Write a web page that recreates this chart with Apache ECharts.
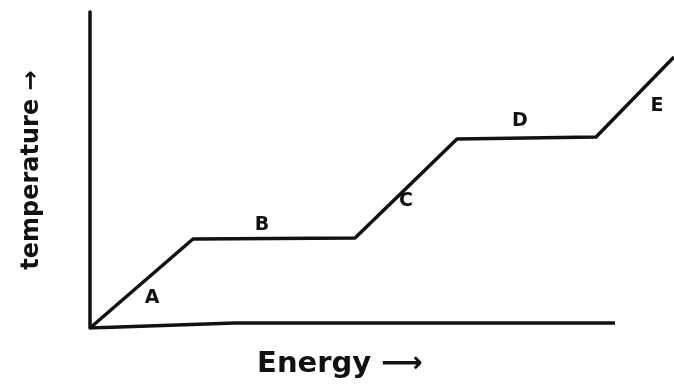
<!DOCTYPE html>
<html>
<head>
<meta charset="utf-8">
<script src="https://cdn.jsdelivr.net/npm/echarts@6/dist/echarts.min.js"></script>
<style>
  html, body { margin: 0; padding: 0; background: #fff; }
  #chart { width: 674px; height: 390px; }
</style>
</head>
<body>
<div id="chart"></div>
<script>
// heating curve, energy vs temperature (arbitrary units)
var energy = [0, 103, 265, 367, 506, 584];
var temperature = [0, 89, 90, 189, 191, 271];

// hand drawn energy axis (slightly wavy)
var baseX = [0, 145, 525];
var baseY = [0, 5, 5];

// phase labels and where they sit
var phaseNames = ['A', 'B', 'C', 'D', 'E'];
var phaseX = [62, 172, 316, 430, 567];
var phaseY = [30, 103, 127, 207, 222];

var chart = echarts.init(document.getElementById('chart'));

var curve = energy.map(function (e, i) { return [e, temperature[i]]; });
var base = baseX.map(function (e, i) { return [e, baseY[i]]; });
var marks = phaseNames.map(function (n, i) { return { name: n, value: [phaseX[i], phaseY[i]] }; });

var option = {
    animation: false,
    grid: { left: 90, right: 0, top: 12, bottom: 62, outerBoundsMode: 'none' },
    xAxis: {
        type: 'value',
        min: 0,
        max: 584,
        name: 'Energy \u27F6',
        nameLocation: 'middle',
        nameGap: 22,
        nameTextStyle: {
            color: '#111', fontSize: 29, fontWeight: 'bold', fontFamily: 'DejaVu Sans',
            padding: [0, 84, 0, 0]
        },
        axisLine: { show: false },
        axisTick: { show: false },
        axisLabel: { show: false },
        splitLine: { show: false }
    },
    yAxis: {
        type: 'value',
        min: 0,
        max: 316,
        name: 'temperature \u2192',
        nameLocation: 'middle',
        nameGap: 46,
        nameRotate: 90,
        nameTextStyle: { color: '#111', fontSize: 24, fontWeight: 'bold', fontFamily: 'DejaVu Sans' },
        axisLine: { lineStyle: { color: '#111', width: 3.5 } },
        axisTick: { show: false },
        axisLabel: { show: false },
        splitLine: { show: false }
    },
    series: [
        {
            type: 'line',
            data: base,
            symbol: 'none',
            lineStyle: { color: '#111', width: 3.5 }
        },
        {
            type: 'line',
            data: curve,
            symbol: 'none',
            lineStyle: { color: '#111', width: 3.5 }
        },
        {
            type: 'scatter',
            data: marks,
            symbolSize: 0,
            itemStyle: { opacity: 1 },
            label: {
                show: true,
                position: 'inside',
                formatter: '{b}',
                color: '#111',
                fontSize: 19,
                fontWeight: 'bold',
                fontFamily: 'DejaVu Sans'
            }
        }
    ]
};
chart.setOption(option);
</script>
</body>
</html>
